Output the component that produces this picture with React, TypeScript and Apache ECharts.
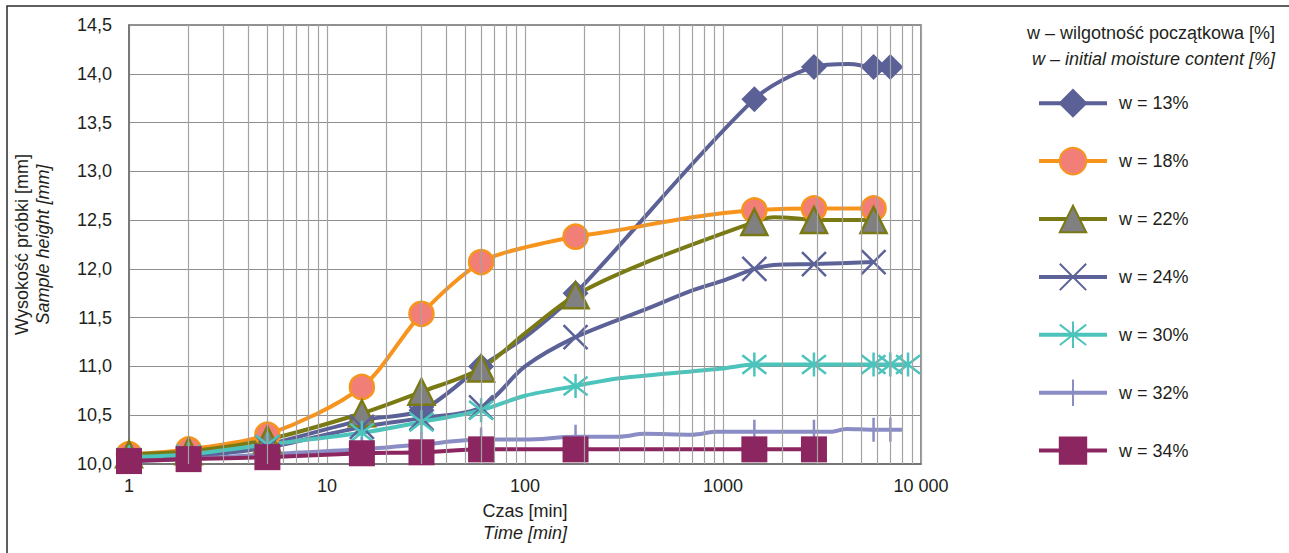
import React, { useEffect, useRef } from 'react';
import * as echarts from 'echarts';

// Times that carry a marker (other points are curve-shaping points without marker)
const markerTimes = [1, 2, 5, 15, 30, 60, 180, 1440, 2880, 5760, 7000, 8600];

const t13 = [1, 2, 5, 15, 30, 60, 100, 180, 1440, 2880, 4320, 5760, 7000];
const h13 = [10.05, 10.08, 10.2, 10.45, 10.55, 11.0, 11.3, 11.75, 13.74, 14.07, 14.1, 14.07, 14.07];

const t18 = [1, 2, 5, 15, 30, 60, 100, 180, 300, 700, 1440, 2880, 5760];
const h18 = [10.1, 10.15, 10.3, 10.79, 11.54, 12.07, 12.22, 12.33, 12.4, 12.53, 12.6, 12.62, 12.62];

const t22 = [1, 2, 5, 15, 30, 60, 100, 180, 400, 1440, 1800, 2300, 2880, 5760];
const h22 = [10.1, 10.13, 10.25, 10.52, 10.74, 10.98, 11.34, 11.73, 12.06, 12.48, 12.53, 12.52, 12.5, 12.5];

const t24 = [1, 2, 5, 15, 30, 60, 100, 180, 400, 700, 1000, 1440, 1800, 2880, 5760];
const h24 = [10.03, 10.07, 10.17, 10.38, 10.47, 10.58, 11.0, 11.3, 11.58, 11.78, 11.88, 12.0, 12.04, 12.05, 12.07];

const t30 = [1, 2, 5, 15, 30, 60, 100, 180, 300, 1000, 1440, 2880, 5760, 7000, 8600];
const h30 = [10.07, 10.1, 10.2, 10.32, 10.43, 10.55, 10.7, 10.8, 10.88, 10.98, 11.02, 11.02, 11.02, 11.02, 11.02];

const t32 = [1, 2, 5, 15, 30, 60, 100, 180, 300, 400, 700, 930, 1440, 2880, 3500, 4200, 5760, 7000, 8000];
const h32 = [10.03, 10.05, 10.1, 10.15, 10.2, 10.25, 10.25, 10.28, 10.28, 10.31, 10.3, 10.33, 10.33, 10.33, 10.33, 10.36, 10.35, 10.35, 10.35];

const t34 = [1, 2, 5, 15, 30, 60, 180, 1440, 2880];
const h34 = [10.03, 10.05, 10.07, 10.11, 10.12, 10.15, 10.15, 10.15, 10.15];

const seriesNames = ['w = 13%', 'w = 18%', 'w = 22%', 'w = 24%', 'w = 30%', 'w = 32%', 'w = 34%'];

const minorGridTimes = [
  2, 3, 4, 5, 6, 7, 8, 9,
  20, 30, 40, 50, 60, 70, 80, 90,
  200, 300, 400, 500, 600, 700, 800, 900,
  2000, 3000, 4000, 5000, 6000, 7000, 8000, 9000,
];

const yMin = 10;
const yMax = 14.5;
const yStep = 0.5;
const xMin = 1;
const xMax = 10000;

const FONT = "'Liberation Sans', Arial, Helvetica, sans-serif";
const TXT = '#231f20';

const PATH_X = 'path://M0,0L10,10M10,0L0,10';
const PATH_AST = 'path://M0,0L10,10M10,0L0,10M5,-1.5L5,11.5';
const PATH_PLUS = 'path://M5,0L5,10M0,5L10,5';

function build(ts: number[], hs: number[]) {
  return ts.map((t, i) =>
    markerTimes.indexOf(t) >= 0 ? { value: [t, hs[i]] } : { value: [t, hs[i]], symbol: 'none' }
  );
}

export default function App() {
  const ref = useRef<HTMLDivElement>(null);
  useEffect(() => {
    if (!ref.current) return;
    const chart = echarts.init(ref.current, undefined, { renderer: 'svg' });

    const lineSeries = (
      name: string,
      ts: number[],
      hs: number[],
      lineColor: string,
      symbol: string,
      symbolSize: number | number[],
      fill: string,
      border: string,
      borderWidth: number
    ) => ({
      type: 'line',
      name,
      data: build(ts, hs),
      smooth: 0.3,
      symbol,
      symbolSize,
      showAllSymbol: true,
      lineStyle: { color: lineColor, width: 4 },
      itemStyle: { color: fill, borderColor: border, borderWidth },
      emphasis: { disabled: true },
      z: 3,
    });

    const option: any = {
      animation: false,
      textStyle: { fontFamily: FONT },
      grid: {
        left: 129,
        top: 25,
        width: 792,
        height: 439,
        show: true,
        borderColor: '#6f6f6f',
        borderWidth: 1.5,
      },
      xAxis: {
        type: 'log',
        logBase: 10,
        min: xMin,
        max: xMax,
        axisLine: { show: true, lineStyle: { color: '#6f6f6f', width: 1.5 } },
        axisTick: { show: false },
        splitLine: { show: true, lineStyle: { color: '#a3a3a3', width: 1.2 } },
        axisLabel: {
          fontSize: 18,
          color: TXT,
          fontFamily: FONT,
          margin: 13,
          formatter: (v: number) => (v >= 10000 ? '10 000' : String(v)),
        },
        name: '{a|Czas [min]}\n{b|Time [min]}',
        nameLocation: 'middle',
        nameGap: 36,
        nameTextStyle: {
          rich: {
            a: { fontSize: 18, color: TXT, fontFamily: FONT, lineHeight: 22 },
            b: { fontSize: 18, color: TXT, fontFamily: FONT, fontStyle: 'italic', lineHeight: 22 },
          },
        },
      },
      yAxis: {
        type: 'value',
        min: yMin,
        max: yMax,
        interval: yStep,
        axisLine: { show: true, lineStyle: { color: '#6f6f6f', width: 1.5 } },
        axisTick: { show: false },
        splitLine: { show: true, lineStyle: { color: '#8e8e8e', width: 1.2 } },
        axisLabel: {
          fontSize: 18,
          color: TXT,
          fontFamily: FONT,
          margin: 17,
          formatter: (v: number) => v.toFixed(1).replace('.', ','),
        },
        name: '{a|Wysokość próbki [mm]}\n{b|Sample height [mm]}',
        nameLocation: 'middle',
        nameRotate: 90,
        nameGap: 76,
        nameTextStyle: {
          rich: {
            a: { fontSize: 18, color: TXT, fontFamily: FONT, lineHeight: 21 },
            b: { fontSize: 18, color: TXT, fontFamily: FONT, fontStyle: 'italic', lineHeight: 21 },
          },
        },
      },
      legend: {
        data: seriesNames,
        orient: 'vertical',
        left: 1032,
        top: 84,
        itemWidth: 68,
        itemHeight: 33,
        itemGap: 29.5,
        selectedMode: false,
        lineStyle: { width: 4 },
        itemStyle: { borderWidth: 2 },
        textStyle: { fontSize: 18, color: TXT, fontFamily: FONT, padding: [0, 0, 0, 7] },
      },
      graphic: [
        {
          type: 'rect',
          silent: true,
          shape: { x: 7, y: 6, width: 1400, height: 700 },
          style: { fill: 'none', stroke: '#2b2b2b', lineWidth: 1.5 },
        },
        {
          type: 'text',
          silent: true,
          x: 1275,
          y: 33,
          style: {
            text: 'w – wilgotność początkowa [%]',
            fontSize: 18,
            fontFamily: FONT,
            fill: TXT,
            align: 'right',
            verticalAlign: 'middle',
          },
        },
        {
          type: 'text',
          silent: true,
          x: 1275,
          y: 59,
          style: {
            text: 'w – initial moisture content [%]',
            fontSize: 18,
            fontFamily: FONT,
            fontStyle: 'italic',
            fill: TXT,
            align: 'right',
            verticalAlign: 'middle',
          },
        },
      ],
      series: [
        {
          type: 'line',
          name: 'grid',
          data: [],
          silent: true,
          z: 1,
          markLine: {
            silent: true,
            symbol: ['none', 'none'],
            label: { show: false },
            lineStyle: { color: '#a3a3a3', width: 1.2, type: 'solid' },
            emphasis: { disabled: true },
            data: minorGridTimes.map((v) => ({ xAxis: v })),
          },
        },
        lineSeries(seriesNames[0], t13, h13, '#5b6196', 'diamond', 26, '#5b6196', '#5b6196', 0),
        lineSeries(seriesNames[1], t18, h18, '#f7941d', 'circle', 24, '#f27e78', '#f7941d', 2.5),
        lineSeries(seriesNames[2], t22, h22, '#7a7a14', 'triangle', 26, '#808080', '#7a7a14', 2.5),
        lineSeries(seriesNames[3], t24, h24, '#5c6298', PATH_X, 24, '#5c6298', '#5c6298', 2.5),
        lineSeries(seriesNames[4], t30, h30, '#4cc4bc', PATH_AST, 24, '#4cc4bc', '#4cc4bc', 2.5),
        lineSeries(seriesNames[5], t32, h32, '#8a8cc6', PATH_PLUS, 24, '#8a8cc6', '#8a8cc6', 2.5),
        lineSeries(seriesNames[6], t34, h34, '#8c2660', 'rect', 26, '#8c2660', '#8c2660', 0),
      ],
    };

    chart.setOption(option);
    return () => chart.dispose();
  }, []);

  return (
    <div
      ref={ref}
      style={{ position: 'fixed', left: 0, top: 0, width: 1289, height: 553, background: '#fff' }}
    />
  );
}
